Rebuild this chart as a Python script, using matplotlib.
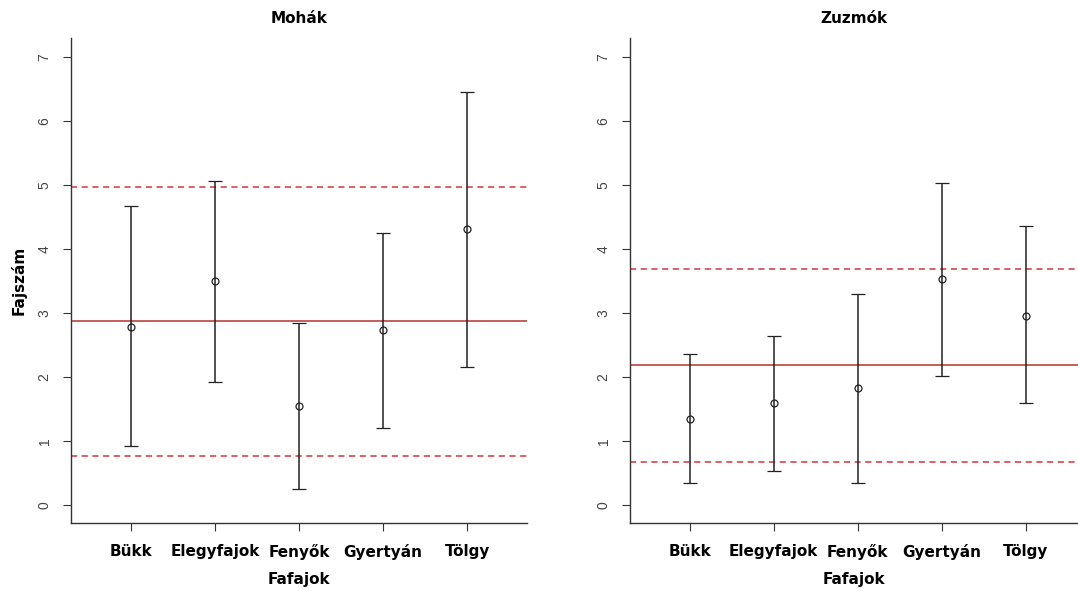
import numpy as np
import matplotlib
matplotlib.use("Agg")
import matplotlib.pyplot as plt

categories = ["Bükk", "Elegyfajok", "Fenyők", "Gyertyán", "Tölgy"]

moha_mean = [2.79, 3.50, 1.55, 2.73, 4.31]
moha_low = [0.92, 1.93, 0.25, 1.20, 2.16]
moha_high = [4.67, 5.07, 2.84, 4.26, 6.46]
moha_lines = [2.87, 4.97, 0.77]  # overall mean, upper, lower

zuzmo_mean = [1.35, 1.59, 1.83, 3.53, 2.96]
zuzmo_low = [0.35, 0.54, 0.35, 2.02, 1.59]
zuzmo_high = [2.36, 2.64, 3.30, 5.04, 4.36]
zuzmo_lines = [2.19, 3.69, 0.67]

fig = plt.figure(figsize=(10.78, 5.91), dpi=100)
ax1 = fig.add_axes([0.0659, 0.115, 0.423, 0.8206])
ax2 = fig.add_axes([0.5844, 0.115, 0.4156, 0.8206])


def draw(ax, title, mean, low, high, lines, xmax):
    x = np.arange(1, len(categories) + 1)
    mean = np.array(mean)
    yerr = [mean - np.array(low), np.array(high) - mean]
    ax.axhline(lines[0], color="#c0504d", lw=1.3, zorder=1)
    ax.axhline(lines[1], color="#d9323a", lw=1.1, ls=(0, (4, 3)), zorder=1)
    ax.axhline(lines[2], color="#d9323a", lw=1.1, ls=(0, (4, 3)), zorder=1)
    ax.errorbar(x, mean, yerr=yerr, fmt="o", mfc="none", mec="#222222",
                ms=5, mew=0.9, ecolor="#222222", elinewidth=1.1,
                capsize=5, capthick=1.1, zorder=3)
    ax.set_xlim(0.29, xmax)
    ax.set_ylim(-0.28, 7.3)
    ax.set_xticks(x)
    ax.set_xticklabels(categories, fontsize=11, fontweight="bold",
                       family="DejaVu Sans")
    ax.set_yticks(range(8))
    ax.set_yticklabels([str(i) for i in range(8)], rotation=90, va="center",
                       fontsize=10, color="#444444", family="Liberation Sans")
    for s in ["top", "right"]:
        ax.spines[s].set_visible(False)
    for s in ["left", "bottom"]:
        ax.spines[s].set_color("#333333")
        ax.spines[s].set_linewidth(1.0)
    ax.tick_params(axis="both", length=6, color="#333333")
    ax.tick_params(axis="x", pad=9)
    ax.tick_params(axis="y", pad=8)
    ax.set_title(title, fontsize=11, fontweight="bold", pad=11)
    ax.set_xlabel("Fafajok", fontsize=11, fontweight="bold", labelpad=9)


draw(ax1, "Mohák", moha_mean, moha_low, moha_high, moha_lines, 5.71)
draw(ax2, "Zuzmók", zuzmo_mean, zuzmo_low, zuzmo_high, zuzmo_lines, 5.62)
ax1.set_ylabel("Fajszám", fontsize=11, fontweight="bold", labelpad=8)

fig.savefig("out.png", dpi=100)
